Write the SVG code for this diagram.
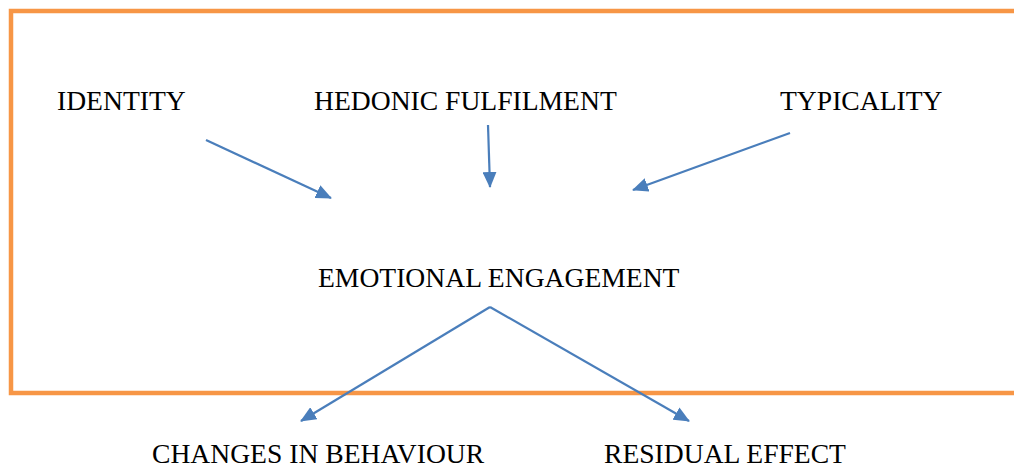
<svg xmlns="http://www.w3.org/2000/svg" width="1014" height="471" viewBox="0 0 1014 471">
<style>
.t{font-family:"Liberation Serif","Times New Roman",serif;font-size:27.6px;fill:#000}
.c{stroke:#4A7EBB;stroke-width:2.2;fill:none;marker-end:url(#ah)}
</style>
<defs>
<marker id="ah" markerUnits="userSpaceOnUse" markerWidth="16" markerHeight="14" refX="15" refY="7" orient="auto">
<path d="M0,0 L16,7 L0,14 Z" fill="#4A7EBB"/>
</marker>
</defs>
<rect width="1014" height="471" fill="#fff"/>
<path d="M1020,11 L11,11 L11,393 L1020,393" fill="none" stroke="#F79646" stroke-width="4.5"/>
<g id="identity"><text class="t" x="57" y="110">IDENTITY</text></g>
<g id="hedonic"><text class="t" x="314" y="110">HEDONIC FULFILMENT</text></g>
<g id="typicality"><text class="t" x="780" y="110">TYPICALITY</text></g>
<g id="emotional"><text class="t" x="318" y="287">EMOTIONAL ENGAGEMENT</text></g>
<g id="changes"><text class="t" x="152" y="463">CHANGES IN BEHAVIOUR</text></g>
<g id="residual"><text class="t" x="604" y="463">RESIDUAL EFFECT</text></g>
<g id="connectors">
<line class="c" x1="206" y1="140" x2="331" y2="198"/>
<line class="c" x1="488" y1="125" x2="490" y2="187"/>
<line class="c" x1="790" y1="133" x2="633" y2="190"/>
<line class="c" x1="490" y1="307" x2="301" y2="421"/>
<line class="c" x1="490" y1="307" x2="689" y2="421"/>
</g>
</svg>
